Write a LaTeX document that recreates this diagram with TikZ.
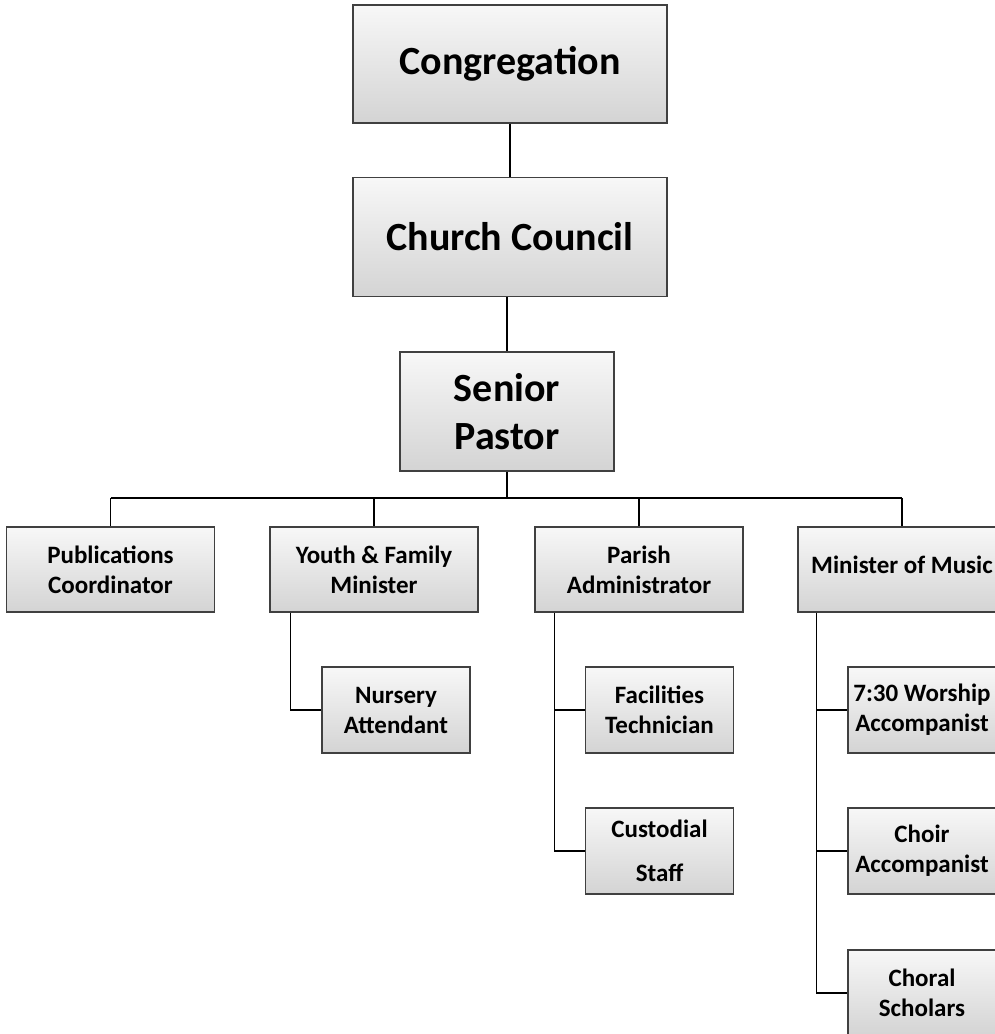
\documentclass[tikz,border=0pt]{standalone}
\usepackage{fontspec}
\setmainfont{Carlito}
\tikzset{
	box/.style={draw=black!75, line width=1.2pt, top color=black!3, bottom color=black!17, align=center, inner sep=2pt},
	topbox/.style={box, minimum width=314pt, minimum height=118pt, font=\fontsize{40}{48}\selectfont\bfseries},
	midbox/.style={box, minimum width=208pt, minimum height=85pt, font=\fontsize{25}{30}\selectfont\bfseries},
	subbox/.style={box, minimum width=148pt, minimum height=86pt, font=\fontsize{25}{30}\selectfont\bfseries},
	link/.style={-, line width=1.6pt, black}
}
\begin{document}
\begin{tikzpicture}[x=1pt,y=-1pt]
			\useasboundingbox [fill=white] (0,0) rectangle (994,1034);
			% top of the chart
			\node [topbox] (cong) at (510,64) {Congregation};
			\node [topbox, minimum height=119pt] (council) at (510,237) {Church Council};
			\node [topbox, minimum width=214pt, minimum height=119pt] (pastor) at (507,411.5) {Senior\\Pastor};
			\coordinate (bus) at (507,498);

			% staff under the pastor
			\node [midbox] (pub) at (110.5,569.5) {Publications\\Coordinator};
			\node [midbox] (youth) at (374,569.5) {Youth \& Family\\Minister};
			\node [midbox] (parish) at (639,569.5) {Parish\\Administrator};
			\node [midbox] (music) at (902,569.5) {\raisebox{10pt}{Minister of Music}};

			\node [subbox] (nursery) at (396,710) {Nursery\\Attendant};
			\node [subbox] (facil) at (659.5,710) {Facilities\\Technician};
			\node [subbox, font=\fontsize{25}{44}\selectfont\bfseries] (custod) at (659.5,851) {Custodial\\Staff};
			\node [subbox] (worship) at (922,710) {7:30 Worship\\Accompanist};
			\node [subbox] (choir) at (922,851) {Choir\\Accompanist};
			\node [subbox] (choral) at (922,993) {Choral\\Scholars};

			\draw [link] (cong) -- (council);
			\draw [link] (pastor.north |- council.south) -- (pastor.north);
			\draw [link] (pastor) -- (bus);
			\draw [link] (pub.north |- bus) -- (music.north |- bus);
			\foreach \n in {pub,youth,parish,music}{
				\draw [link] (\n.north |- bus) -- (\n.north);
			}

			\coordinate (ys) at ([xshift=21pt]youth.south west);
			\coordinate (ps) at ([xshift=20pt]parish.south west);
			\coordinate (ms) at ([xshift=19pt]music.south west);
			\draw [link] (ys) |- (nursery.west);
			\draw [link] (ps) |- (custod.west);
			\draw [link] (ps |- facil.west) -- (facil.west);
			\draw [link] (ms) |- (choral.west);
			\foreach \n in {worship,choir}{
				\draw [link] (ms |- \n.west) -- (\n.west);
			}
\end{tikzpicture}
\end{document}
